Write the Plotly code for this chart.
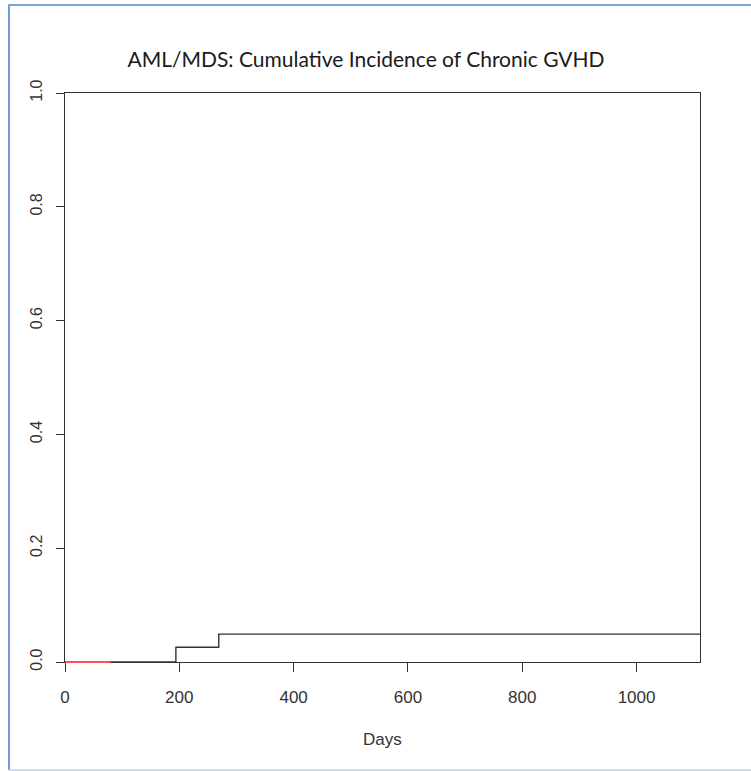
import plotly.graph_objects as go

# Data
days_black = [0, 194, 269, 1111]
cuminc_black = [0.0, 0.026, 0.049, 0.049]
days_red = [0, 80]
cuminc_red = [0.0, 0.0]
x_ticks = [0, 200, 400, 600, 800, 1000]
y_ticks = [0.0, 0.2, 0.4, 0.6, 0.8, 1.0]
y_tick_labels = ["0.0", "0.2", "0.4", "0.6", "0.8", "1.0"]

W, H = 751, 771
L, R, T, B = 65, 51, 93, 109
PW, PH = W - L - R, H - T - B

def px(xp):
    return (xp - L) / PW

def py(yp):
    return (H - B - yp) / PH

fig = go.Figure()
fig.add_trace(go.Scatter(x=days_black, y=cuminc_black, mode="lines", line_shape="hv",
                         line=dict(color="#333333", width=1.4), cliponaxis=False, showlegend=False))

tickfont = dict(family="Liberation Sans, Arial, sans-serif", size=17, color="#333333")
fig.update_xaxes(range=[0, 1111], tickvals=x_ticks, ticktext=[str(v) for v in x_ticks],
                 showline=True, mirror=True, linecolor="#333333", linewidth=1.4,
                 ticks="outside", ticklen=9, tickwidth=1.2, tickcolor="#333333",
                 showgrid=False, zeroline=False, tickfont=tickfont, layer="below traces",
                 ticklabelstandoff=10)
fig.update_yaxes(range=[0, 1], tickvals=y_ticks, ticktext=y_tick_labels,
                 showline=True, mirror=True, linecolor="#333333", linewidth=1.4,
                 ticks="outside", ticklen=8, tickwidth=1.2, tickcolor="#333333",
                 showgrid=False, zeroline=False, tickangle=-90,
                 tickfont=dict(family="Liberation Sans, Arial, sans-serif", size=16, color="#333333"),
                 layer="below traces", ticklabelstandoff=7)

shapes = [
    # red censoring/competing curve segment, drawn on the data x-scale at y = 0
    dict(type="line", xref="x", yref="paper", x0=days_red[0], x1=days_red[1],
         y0=cuminc_red[0], y1=cuminc_red[1], layer="above",
         line=dict(color="#ff5050", width=2)),
    dict(type="line", xref="paper", yref="paper", x0=px(9), x1=px(9), y0=py(5), y1=py(770),
         line=dict(color="#6f9bd8", width=2)),
    dict(type="line", xref="paper", yref="paper", x0=px(8), x1=px(751), y0=py(5), y1=py(5),
         line=dict(color="#7aa2da", width=2)),
    dict(type="line", xref="paper", yref="paper", x0=px(9), x1=px(751), y0=py(770), y1=py(770),
         line=dict(color="#bcd0ea", width=1.5)),
]

fig.update_layout(
    width=W, height=H,
    margin=dict(l=L, r=R, t=T, b=B),
    paper_bgcolor="white", plot_bgcolor="white",
    shapes=shapes,
    title=dict(text="AML/MDS: Cumulative Incidence of Chronic GVHD",
               xref="container", yref="container", x=366 / W, y=1 - 60 / H,
               xanchor="center", yanchor="middle",
               font=dict(family="Lato, Open Sans, sans-serif", size=21, color="#1a1a1a")),
    annotations=[dict(text="Days", xref="paper", yref="paper", x=px(382), y=py(739),
                      xanchor="center", yanchor="middle", showarrow=False,
                      font=dict(family="Liberation Sans, Arial, sans-serif", size=17, color="#333333"))],
)

fig.write_html("out.html")
